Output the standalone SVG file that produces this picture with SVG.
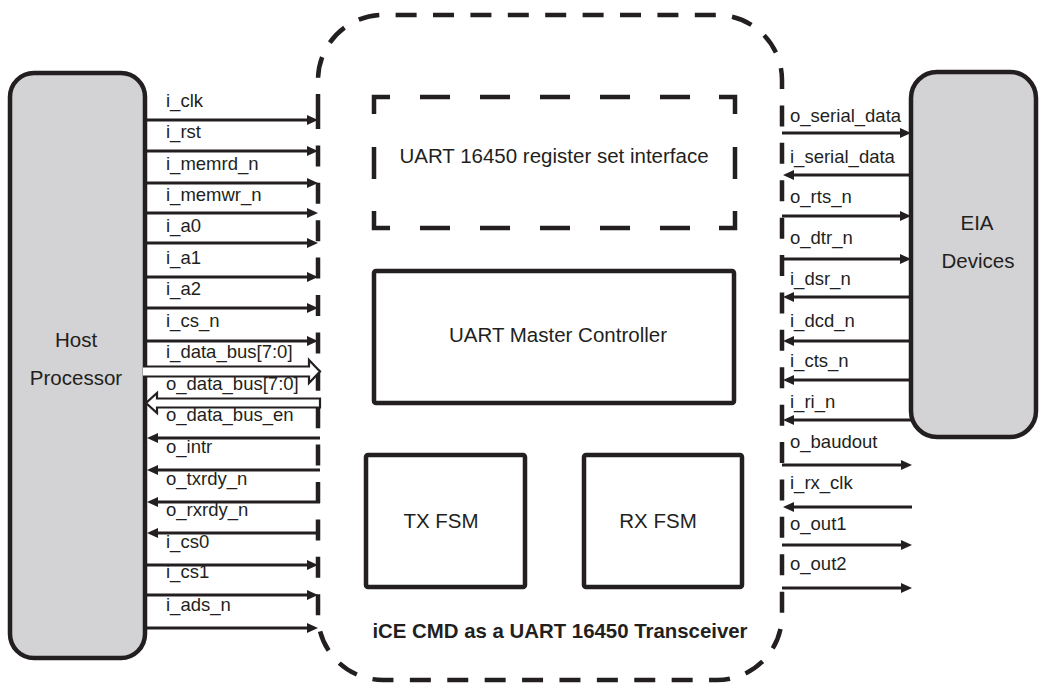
<svg xmlns="http://www.w3.org/2000/svg" width="1040" height="683" viewBox="0 0 1040 683">
<style>
.t{font-family:"Liberation Sans",Arial,sans-serif;fill:#231f20}
.lbl{font-size:18.5px}
.big{font-size:20.5px}
.title{font-size:20.4px;font-weight:bold}
.box{fill:#fff;stroke:#231f20;stroke-width:4.5}
.dev{fill:#d3d2d4;stroke:#231f20;stroke-width:4.5}
.w{stroke:#231f20;stroke-width:3;fill:none}
.bus{fill:#fff;stroke:#231f20;stroke-width:2.2}
.dash{fill:none;stroke:#231f20;stroke-width:4.5}
</style>
<defs>
<marker id="ah" markerUnits="userSpaceOnUse" markerWidth="12" markerHeight="12" refX="5" refY="5" orient="auto">
<path d="M0,0 L11,5 L0,10 Z" fill="#231f20"/>
</marker>
</defs>
<rect width="1040" height="683" fill="#fff"/>
<g id="outer">
<path class="dash" stroke-dasharray="21 16.4" d="M318,108 V615 A65,65 0 0 0 383,680 H717 A65,65 0 0 0 782,615 V80 A65,65 0 0 0 717,15 H383 A65,65 0 0 0 318,80 Z"/>
<text class="t title" x="560" y="638" text-anchor="middle">iCE CMD as a UART 16450 Transceiver</text>
</g>
<g id="host">
<rect class="dev" x="10" y="73" width="135" height="585" rx="24"/>
<text class="t big" x="76" y="347" text-anchor="middle">Host</text>
<text class="t big" x="76" y="385" text-anchor="middle">Processor</text>
</g>
<g id="eia">
<rect class="dev" x="911" y="72" width="125" height="365" rx="26"/>
<text class="t big" x="977" y="230" text-anchor="middle">EIA</text>
<text class="t big" x="978" y="268" text-anchor="middle">Devices</text>
</g>
<g id="regset">
<path class="dash" stroke-linejoin="miter" d="M374,114 V97 H390 M420,97 H450 M480,97 H510 M540,97 H570 M600,97 H630 M660,97 H690 M719,97 H735 V114 M735,147 V179 M735,211 V228 H719 M690,228 H660 M630,228 H600 M570,228 H540 M510,228 H480 M450,228 H420 M390,228 H374 V211 M374,179 V147"/>
<text class="t big" x="554" y="163" text-anchor="middle">UART 16450 register set interface</text>
</g>
<g id="master">
<rect class="box" x="374" y="271" width="360" height="132" rx="2"/>
<text class="t big" x="558" y="342" text-anchor="middle">UART Master Controller</text>
</g>
<g id="txfsm">
<rect class="box" x="366" y="455" width="159" height="132" rx="2"/>
<text class="t big" x="441" y="528" text-anchor="middle">TX FSM</text>
</g>
<g id="rxfsm">
<rect class="box" x="584" y="455" width="158" height="132" rx="2"/>
<text class="t big" x="658" y="528" text-anchor="middle">RX FSM</text>
</g>
<g id="connectors">
<g marker-end="url(#ah)" class="w">
<line x1="145" y1="120" x2="312" y2="120"/>
<line x1="145" y1="151" x2="312" y2="151"/>
<line x1="145" y1="183" x2="312" y2="183"/>
<line x1="145" y1="213" x2="312" y2="213"/>
<line x1="145" y1="243" x2="312" y2="243"/>
<line x1="145" y1="277" x2="312" y2="277"/>
<line x1="145" y1="308" x2="312" y2="308"/>
<line x1="145" y1="341" x2="312" y2="341"/>
<line x1="320" y1="438" x2="153" y2="438"/>
<line x1="320" y1="470" x2="153" y2="470"/>
<line x1="320" y1="502" x2="153" y2="502"/>
<line x1="320" y1="533" x2="153" y2="533"/>
<line x1="145" y1="565" x2="312" y2="565"/>
<line x1="145" y1="595" x2="312" y2="595"/>
<line x1="145" y1="628" x2="312" y2="628"/>
<line x1="782" y1="133" x2="905" y2="133"/>
<line x1="911" y1="175" x2="789" y2="175"/>
<line x1="782" y1="216" x2="905" y2="216"/>
<line x1="782" y1="259" x2="905" y2="259"/>
<line x1="911" y1="297" x2="789" y2="297"/>
<line x1="911" y1="341" x2="789" y2="341"/>
<line x1="911" y1="380" x2="789" y2="380"/>
<line x1="911" y1="420" x2="789" y2="420"/>
<line x1="782" y1="465" x2="906" y2="465"/>
<line x1="912" y1="507" x2="789" y2="507"/>
<line x1="782" y1="545" x2="906" y2="545"/>
<line x1="782" y1="588" x2="906" y2="588"/>
</g>
<path class="bus" d="M143,366.5 H309 V360 L320,371.5 L309,383 V376.5 H143"/>
<path class="bus" d="M320,398.5 H157 V393 L146,403 L157,413 V407.5 H320 Z"/>
</g>
<g id="labels" class="t lbl">
<text x="166" y="107">i_clk</text>
<text x="166" y="138">i_rst</text>
<text x="166" y="170">i_memrd_n</text>
<text x="166" y="201">i_memwr_n</text>
<text x="166" y="232">i_a0</text>
<text x="166" y="264">i_a1</text>
<text x="166" y="295">i_a2</text>
<text x="166" y="327">i_cs_n</text>
<text x="166" y="358">i_data_bus[7:0]</text>
<text x="166" y="390">o_data_bus[7:0]</text>
<text x="166" y="421">o_data_bus_en</text>
<text x="166" y="453">o_intr</text>
<text x="166" y="485">o_txrdy_n</text>
<text x="166" y="516">o_rxrdy_n</text>
<text x="166" y="548">i_cs0</text>
<text x="166" y="578">i_cs1</text>
<text x="166" y="611">i_ads_n</text>
<text x="790" y="122">o_serial_data</text>
<text x="790" y="163">i_serial_data</text>
<text x="790" y="203">o_rts_n</text>
<text x="790" y="244">o_dtr_n</text>
<text x="790" y="285">i_dsr_n</text>
<text x="790" y="327">i_dcd_n</text>
<text x="790" y="367">i_cts_n</text>
<text x="790" y="408">i_ri_n</text>
<text x="790" y="448">o_baudout</text>
<text x="790" y="489">i_rx_clk</text>
<text x="790" y="530">o_out1</text>
<text x="790" y="570">o_out2</text>
</g>
</svg>
